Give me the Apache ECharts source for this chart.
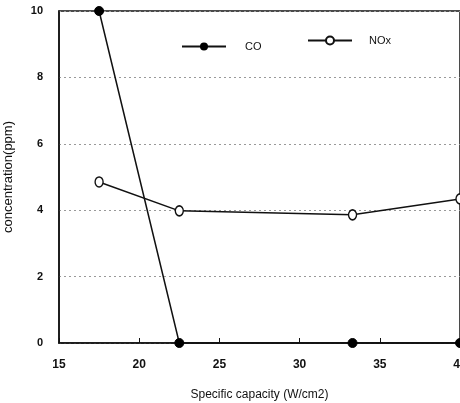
<!DOCTYPE html>
<html>
<head>
<meta charset="utf-8">
<script src="https://cdn.jsdelivr.net/npm/echarts@6/dist/echarts.min.js"></script>
<style>
  html, body { margin: 0; padding: 0; background: #fff; }
  #chart { width: 460px; height: 403px; }
</style>
</head>
<body>
<div id="chart"></div>
<script>
// values
var capacity = [17.5, 22.5, 33.3, 40];
var coValues = [10, 0, 0, 0];
var noxValues = [4.85, 3.98, 3.86, 4.34];

function pairs(xs, ys) {
    return xs.map(function (x, i) { return [x, ys[i]]; });
}

var chart = echarts.init(document.getElementById('chart'));
chart.setOption({
    animation: false,
    backgroundColor: '#fff',
    textStyle: { fontFamily: 'Liberation Sans, Arial, sans-serif', color: '#111' },
    grid: {
        left: 59, right: 0, top: 11, bottom: 60,
        outerBoundsMode: 'none', containLabel: false,
        show: true, borderColor: '#111', borderWidth: 1.5
    },
    legend: [
        {
            data: ['CO'], left: 176, top: 36,
            itemWidth: 44, itemHeight: 10,
            textStyle: { fontSize: 11, color: '#111', padding: [0, 0, 0, 14] }
        },
        {
            data: ['NOx'], left: 302, top: 30,
            itemWidth: 44, itemHeight: 10,
            textStyle: { fontSize: 11, color: '#111', padding: [0, 0, 0, 12] }
        }
    ],
    xAxis: {
        type: 'value', min: 15, max: 40, interval: 5,
        name: 'Specific capacity (W/cm2)', nameLocation: 'middle', nameGap: 46,
        nameTextStyle: { fontSize: 12, color: '#111' },
        axisLine: { lineStyle: { color: '#111', width: 1.5 } },
        axisTick: { inside: true, length: 5, lineStyle: { color: '#111' } },
        axisLabel: { fontSize: 12, color: '#111', margin: 16, fontWeight: 'bold' },
        splitLine: { show: false }
    },
    yAxis: {
        type: 'value', min: 0, max: 10, interval: 2,
        name: 'concentration(ppm)', nameLocation: 'middle', nameGap: 44,
        nameTextStyle: { fontSize: 13, color: '#111' },
        axisLine: { lineStyle: { color: '#111', width: 1.5 } },
        axisTick: { show: false },
        axisLabel: { fontSize: 11, color: '#111', margin: 16, fontWeight: 'bold' },
        splitLine: { lineStyle: { color: '#999', type: [2, 3], width: 1 } }
    },
    series: [
        {
            name: 'CO', type: 'line', data: pairs(capacity, coValues),
            symbol: 'circle', symbolSize: 9, clip: false,
            lineStyle: { color: '#111', width: 1.5 },
            itemStyle: { color: '#000', borderColor: '#000' }
        },
        {
            name: 'NOx', type: 'line', data: pairs(capacity, noxValues),
            symbol: 'circle', symbolSize: [8, 10], clip: false,
            lineStyle: { color: '#111', width: 1.5 },
            itemStyle: { color: '#fff', borderColor: '#111', borderWidth: 1.5 }
        }
    ]
});
</script>
</body>
</html>
